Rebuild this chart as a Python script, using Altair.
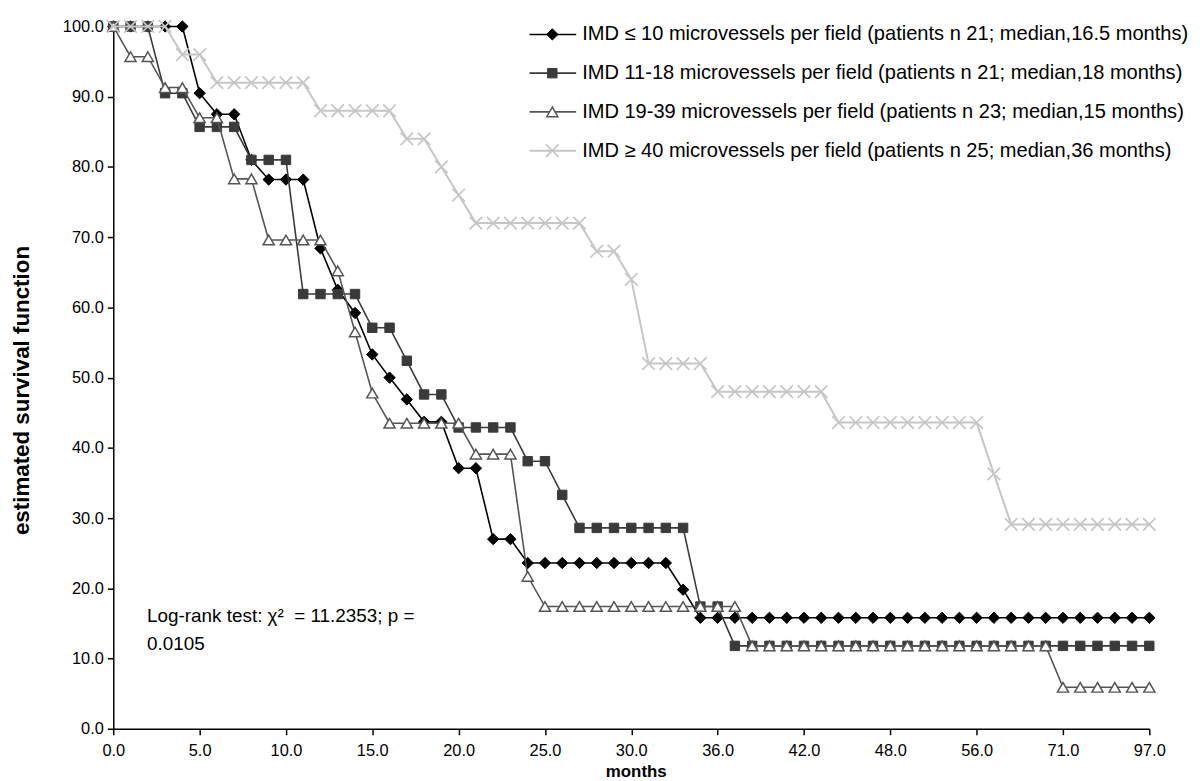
import altair as alt
import pandas as pd

# ---------------- data ----------------
MONTH_INDEX = list(range(61))  # category positions on the (category) month axis
X_TICK_INDEX = [0, 5, 10, 15, 20, 25, 30, 35, 40, 45, 50, 55, 60]
X_TICK_LABELS = ["0.0", "5.0", "10.0", "15.0", "20.0", "25.0", "30.0",
                 "36.0", "42.0", "48.0", "56.0", "71.0", "97.0"]
Y_TICKS = [0, 10, 20, 30, 40, 50, 60, 70, 80, 90, 100]

SERIES = [
    "IMD ≤ 10 microvessels per field (patients n 21; median,16.5 months)",
    "IMD 11-18 microvessels per field (patients n 21; median,18 months)",
    "IMD 19-39 microvessels per field (patients n 23; median,15 months)",
    "IMD ≥ 40 microvessels per field (patients n 25; median,36 months)",
]

SURV_LE10 = [
    100.0, 100.0, 100.0, 100.0, 100.0,
    90.5, 87.5, 87.5, 81.0, 78.2,
    78.2, 78.2, 68.4, 62.5, 59.2,
    53.3, 50.0, 46.9, 43.7, 43.7,
    37.1, 37.1, 27.0, 27.0, 23.6,
    23.6, 23.6, 23.6, 23.6, 23.6,
    23.6, 23.6, 23.6, 19.8, 15.8,
    15.8, 15.8, 15.8, 15.8, 15.8,
    15.8, 15.8, 15.8, 15.8, 15.8,
    15.8, 15.8, 15.8, 15.8, 15.8,
    15.8, 15.8, 15.8, 15.8, 15.8,
    15.8, 15.8, 15.8, 15.8, 15.8,
    15.8,
]
SURV_11_18 = [
    100.0, 100.0, 100.0, 90.5, 90.5,
    85.7, 85.7, 85.7, 81.0, 81.0,
    81.0, 61.9, 61.9, 61.9, 61.9,
    57.1, 57.1, 52.4, 47.6, 47.6,
    42.9, 42.9, 42.9, 42.9, 38.1,
    38.1, 33.3, 28.6, 28.6, 28.6,
    28.6, 28.6, 28.6, 28.6, 17.4,
    17.4, 11.8, 11.8, 11.8, 11.8,
    11.8, 11.8, 11.8, 11.8, 11.8,
    11.8, 11.8, 11.8, 11.8, 11.8,
    11.8, 11.8, 11.8, 11.8, 11.8,
    11.8, 11.8, 11.8, 11.8, 11.8,
    11.8,
]
SURV_19_39 = [
    100.0, 95.7, 95.7, 91.3, 91.3,
    87.0, 87.0, 78.3, 78.3, 69.6,
    69.6, 69.6, 69.6, 65.2, 56.5,
    47.8, 43.5, 43.5, 43.5, 43.5,
    43.5, 39.1, 39.1, 39.1, 21.7,
    17.4, 17.4, 17.4, 17.4, 17.4,
    17.4, 17.4, 17.4, 17.4, 17.4,
    17.4, 17.4, 11.8, 11.8, 11.8,
    11.8, 11.8, 11.8, 11.8, 11.8,
    11.8, 11.8, 11.8, 11.8, 11.8,
    11.8, 11.8, 11.8, 11.8, 11.8,
    5.9, 5.9, 5.9, 5.9, 5.9,
    5.9,
]
SURV_GE40 = [
    100.0, 100.0, 100.0, 100.0, 96.0,
    96.0, 92.0, 92.0, 92.0, 92.0,
    92.0, 92.0, 88.0, 88.0, 88.0,
    88.0, 88.0, 84.0, 84.0, 80.0,
    76.0, 72.0, 72.0, 72.0, 72.0,
    72.0, 72.0, 72.0, 68.0, 68.0,
    64.0, 52.0, 52.0, 52.0, 52.0,
    48.0, 48.0, 48.0, 48.0, 48.0,
    48.0, 48.0, 43.6, 43.6, 43.6,
    43.6, 43.6, 43.6, 43.6, 43.6,
    43.6, 36.3, 29.1, 29.1, 29.1,
    29.1, 29.1, 29.1, 29.1, 29.1,
    29.1,
]
ALL_SURV = [SURV_LE10, SURV_11_18, SURV_19_39, SURV_GE40]

ANNOTATION_LINES = ["Log-rank test: χ²\u00a0 = 11.2353; p =", "0.0105"]
X_TITLE = "months"
Y_TITLE = "estimated survival function"

# ---------------- styles ----------------
FONT = "Liberation Sans"
STYLES = [
    dict(line="#000000", lw=1.6, shape="diamond", fill="#000000", stroke="#000000", size=130, sw=1.0),
    dict(line="#3a3a3a", lw=1.6, shape="square", fill="#3a3a3a", stroke="#3a3a3a", size=90, sw=1.0),
    dict(line="#555555", lw=1.6, shape="triangle-up", fill="#ffffff", stroke="#555555", size=125, sw=1.5),
    dict(line="#c6c6c6", lw=2.0, shape="M-1,-1L1,1M-1,1L1,-1", fill="transparent", stroke="#c6c6c6", size=160, sw=1.7),
]

rows = []
for name, vals in zip(SERIES, ALL_SURV):
    for i, v in zip(MONTH_INDEX, vals):
        rows.append({"series": name, "idx": i, "surv": v})
df = pd.DataFrame(rows)

label_js = "[" + ",".join("'%s'" % s for s in X_TICK_LABELS) + "]"

x_axis = alt.Axis(
    values=X_TICK_INDEX, labelExpr=label_js + "[round(datum.value/5)]",
    labelFontSize=16.5, labelPadding=8, labelOverlap=False, labelFlush=False,
    title=X_TITLE, titleFontSize=17, titleFontWeight="bold",
    titleX=526, titleY=43, titleAlign="center", titleBaseline="middle",
)
y_axis = alt.Axis(
    values=Y_TICKS, format=".1f", labelFontSize=16.5, labelPadding=4,
    labelOverlap=False,
    title=Y_TITLE, titleFontSize=22.5, titleFontWeight="bold",
    titleX=-92, titleY=366, titleAngle=270, titleAlign="center",
    titleBaseline="middle",
)

base = alt.Chart(df).encode(
    x=alt.X("idx:Q", scale=alt.Scale(domain=[0, 60], nice=False, zero=False), axis=x_axis),
    y=alt.Y("surv:Q", scale=alt.Scale(domain=[0, 100], nice=False), axis=y_axis),
)

series_layers = []
for name, st in zip(SERIES, STYLES):
    sub = base.transform_filter(alt.datum.series == name)
    series_layers.append(sub.mark_line(color=st["line"], strokeWidth=st["lw"]))
    series_layers.append(sub.mark_point(
        shape=st["shape"], size=st["size"], fill=st["fill"], stroke=st["stroke"],
        strokeWidth=st["sw"], opacity=1, fillOpacity=1, filled=False))

annotation = alt.Chart(pd.DataFrame({"k": [0]})).mark_text(
    text=ANNOTATION_LINES, align="left", baseline="middle", font=FONT,
    fontSize=19, lineHeight=28, color="#000000",
).encode(x=alt.value(34), y=alt.value(594))

main = alt.layer(*series_layers, annotation)

# legend (drawn by hand, top right)
leg_df = pd.DataFrame({"series": SERIES, "row": [0, 1, 2, 3]})
leg_y = alt.Y("row:Q", scale=alt.Scale(domain=[0, 3], range=[8, 125]), axis=None)
legend_layers = []
for k, (name, st) in enumerate(zip(SERIES, STYLES)):
    sub = alt.Chart(leg_df).transform_filter(alt.datum.row == k)
    legend_layers.append(sub.mark_rule(color=st["line"], strokeWidth=st["lw"]).encode(
        x=alt.value(419), x2=alt.value(466), y=leg_y))
    legend_layers.append(sub.mark_point(
        shape=st["shape"], size=st["size"], fill=st["fill"], stroke=st["stroke"],
        strokeWidth=st["sw"], opacity=1, fillOpacity=1, filled=False).encode(
        x=alt.value(442), y=leg_y))
legend_layers.append(alt.Chart(leg_df).mark_text(
    align="left", baseline="middle", font=FONT, fontSize=20.2, color="#000000"
).encode(x=alt.value(472), y=leg_y, text="series:N"))
legend = alt.layer(*legend_layers)

chart = alt.layer(main, legend).resolve_scale(y="independent").properties(
    width=1043, height=707,
    padding={"left": 106, "top": 16, "right": 46, "bottom": 50},
    autosize=alt.AutoSizeParams(type="none"),
).configure_view(stroke=None).configure_axis(
    grid=False, domainColor="#000000", tickColor="#000000", labelColor="#000000",
    titleColor="#000000", labelFont=FONT, titleFont=FONT, tickSize=6,
    domainWidth=1.5, tickWidth=1.5,
)

chart.save("out.html", embed_options={"renderer": "svg", "actions": False})
